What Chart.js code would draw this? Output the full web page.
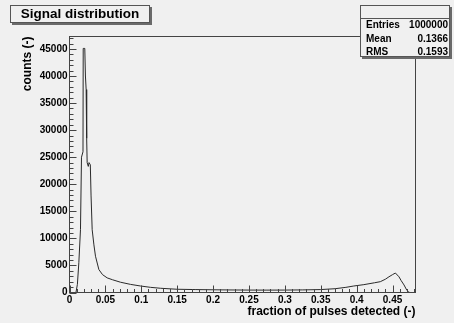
<!DOCTYPE html>
<html>
<head>
<meta charset="utf-8">
<title>Signal distribution</title>
<script src="https://cdn.jsdelivr.net/npm/chart.js@4.4.0/dist/chart.umd.min.js"></script>
<style>
    html, body { margin: 0; padding: 0; background: #f0f0f0; }
    canvas { display: block; }
</style>
</head>
<body>
<canvas id="signalChart" width="454" height="323"></canvas>
<script>
// Histogramme (fraction -> nombre de coups)
const fractions = [
    0.000, 0.009, 0.011, 0.013, 0.0153, 0.0167, 0.0188, 0.0191, 0.0213, 0.0222,
    0.0232, 0.0236, 0.0242, 0.0246, 0.0262, 0.0272, 0.0290, 0.0300, 0.0316, 0.0340,
    0.0362, 0.0409, 0.046, 0.0525, 0.060, 0.071, 0.085, 0.099, 0.113, 0.127,
    0.150, 0.175, 0.200, 0.225, 0.250, 0.275, 0.300, 0.325, 0.350, 0.370,
    0.385, 0.396, 0.410, 0.425, 0.433, 0.440, 0.445, 0.450, 0.454, 0.459,
    0.462, 0.466, 0.470, 0.4726, 0.474, 0.482
];
const counts = [
    0, 0, 1500, 5500, 11600, 25000, 26000, 45100, 45100, 40000,
    37500, 33500, 28500, 24000, 23300, 24000, 23600, 18000, 11600, 8800,
    6700, 4240, 3300, 2700, 2350, 1900, 1500, 1200, 950, 780,
    600, 540, 500, 470, 450, 440, 450, 480, 540, 700,
    950, 1200, 1450, 1800, 2000, 2450, 2900, 3300, 3600, 2900,
    2200, 1400, 400, 100, 0, 0
];

// Graduations des axes
const xTicks = [0, 0.05, 0.1, 0.15, 0.2, 0.25, 0.3, 0.35, 0.4, 0.45];
const yTicks = [0, 5000, 10000, 15000, 20000, 25000, 30000, 35000, 40000, 45000];
const xMax = 0.482;
const yMax = 47300;

// Boîte de statistiques
const statsLabels = ['Entries', 'Mean', 'RMS'];
const statsValues = ['1000000', '0.1366', '0.1593'];

const fontFamily = '"Liberation Sans", Arial, sans-serif';
const bg = '#f0f0f0';

function drawBox(ctx, x, y, w, h) {
    // ombre puis cadre
    ctx.fillStyle = '#6a6a6a';
    ctx.fillRect(x + 2, y + 2, w, h);
    ctx.fillStyle = bg;
    ctx.fillRect(x, y, w, h);
    ctx.strokeStyle = '#555';
    ctx.lineWidth = 1;
    ctx.strokeRect(x + 0.5, y + 0.5, w - 1, h - 1);
}

const rootStyle = {
    id: 'rootStyle',
    beforeDraw(chart) {
        const ctx = chart.ctx;
        ctx.save();
        ctx.fillStyle = bg;
        ctx.fillRect(0, 0, chart.width, chart.height);
        ctx.restore();
    },
    afterDatasetsDraw(chart) {
        const ctx = chart.ctx;
        const a = chart.chartArea;
        const xs = chart.scales.x;
        const ys = chart.scales.y;
        ctx.save();
        ctx.strokeStyle = '#444';
        ctx.lineWidth = 1;
        ctx.strokeRect(a.left, a.top, a.right - a.left, a.bottom - a.top);

        // graduations vers l'intérieur
        ctx.beginPath();
        for (let v = 0; v <= yMax; v += 1000) {
            const py = Math.round(ys.getPixelForValue(v)) + 0.5;
            const len = v % 5000 === 0 ? 7 : 4;
            ctx.moveTo(a.left, py);
            ctx.lineTo(a.left + len, py);
        }
        for (let i = 0; i <= 48; i++) {
            const v = i / 100;
            const px = Math.round(xs.getPixelForValue(v)) + 0.5;
            const len = i % 5 === 0 ? 7 : 3.5;
            ctx.moveTo(px, a.bottom);
            ctx.lineTo(px, a.bottom - len);
        }
        ctx.stroke();
        ctx.restore();
    },
    afterDraw(chart) {
        const ctx = chart.ctx;
        ctx.save();

        // titre
        drawBox(ctx, 10, 5, 140, 18);
        ctx.fillStyle = '#000';
        ctx.font = 'bold 13.5px ' + fontFamily;
        ctx.textAlign = 'center';
        ctx.textBaseline = 'middle';
        ctx.fillText('Signal distribution', 80, 14.5);

        // statistiques
        drawBox(ctx, 360, 5, 90, 52);
        ctx.strokeStyle = '#555';
        ctx.beginPath();
        ctx.moveTo(360, 18.5);
        ctx.lineTo(450, 18.5);
        ctx.stroke();
        ctx.font = 'bold 10px ' + fontFamily;
        ctx.fillStyle = '#000';
        statsLabels.forEach((label, i) => {
            const py = 25.5 + i * 13.5;
            ctx.textAlign = 'left';
            ctx.fillText(label, 366, py);
            ctx.textAlign = 'right';
            ctx.fillText(statsValues[i], 448, py);
        });
        ctx.restore();
    }
};

const ctx = document.getElementById('signalChart').getContext('2d');

new Chart(ctx, {
    type: 'scatter',
    data: {
        datasets: [{
            label: 'Signal distribution',
            data: fractions.map((f, i) => ({ x: f, y: counts[i] })),
            showLine: true,
            borderColor: '#2a2a2a',
            borderWidth: 1,
            pointRadius: 0,
            tension: 0
        }]
    },
    options: {
        responsive: false,
        animation: false,
        layout: {
            padding: { top: 36.5, right: 38.5, left: 0, bottom: 0 }
        },
        plugins: {
            legend: { display: false },
            tooltip: { enabled: false }
        },
        scales: {
            x: {
                type: 'linear',
                min: 0,
                max: xMax,
                afterBuildTicks: scale => {
                    scale.ticks = xTicks.map(v => ({ value: v }));
                },
                afterFit: scale => {
                    scale.height = 30.5;
                },
                grid: { display: false, drawTicks: false, tickLength: 0 },
                border: { display: false },
                ticks: {
                    padding: 2,
                    color: '#000',
                    maxRotation: 0,
                    autoSkip: false,
                    font: { family: fontFamily, size: 10, weight: 'bold' },
                    callback: v => String(+Number(v).toFixed(2))
                },
                title: {
                    display: true,
                    text: 'fraction of pulses detected (-)',
                    align: 'end',
                    color: '#000',
                    padding: { top: 0, bottom: 4 },
                    font: { family: fontFamily, size: 12, weight: 'bold' }
                }
            },
            y: {
                type: 'linear',
                min: 0,
                max: yMax,
                afterBuildTicks: scale => {
                    scale.ticks = yTicks.map(v => ({ value: v }));
                },
                afterFit: scale => {
                    scale.width = 69.5;
                },
                grid: { display: false, drawTicks: false, tickLength: 0 },
                border: { display: false },
                ticks: {
                    padding: 2,
                    color: '#000',
                    autoSkip: false,
                    font: { family: fontFamily, size: 10, weight: 'bold' },
                    callback: v => String(v)
                },
                title: {
                    display: true,
                    text: 'counts (-)',
                    align: 'end',
                    color: '#000',
                    padding: { top: 20.5, bottom: 0 },
                    font: { family: fontFamily, size: 12, weight: 'bold' }
                }
            }
        }
    },
    plugins: [rootStyle]
});
</script>
</body>
</html>
